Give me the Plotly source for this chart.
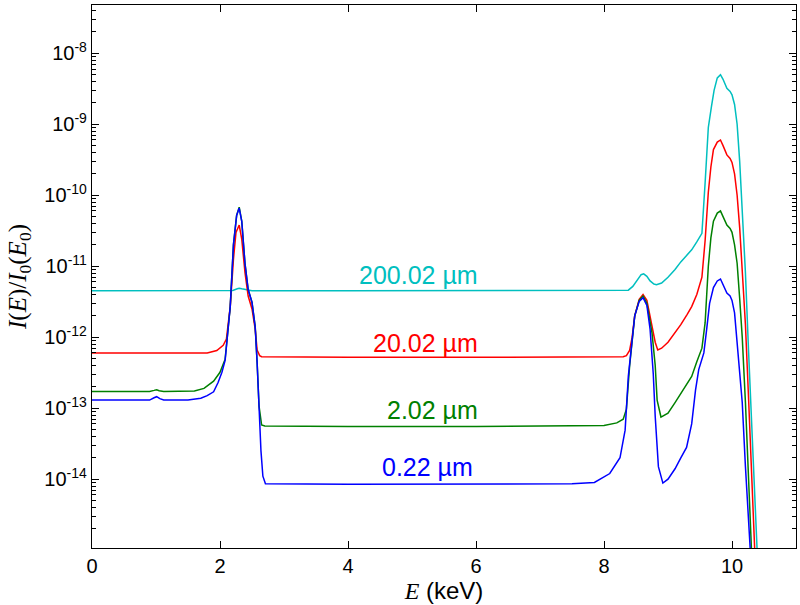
import plotly.graph_objects as go

# ---- data ----
e_cyan = [0, 2.1, 2.2, 2.27, 2.3, 2.34, 2.4, 2.45, 2.5, 4, 6, 8.0, 8.38, 8.45, 8.52, 8.58, 8.62,
          8.67, 8.72, 8.78, 8.82, 8.9, 9.0, 9.11, 9.2, 9.3, 9.37, 9.45, 9.5, 9.53, 9.58, 9.63,
          9.68, 9.72, 9.77, 9.82, 9.86, 9.92, 9.97, 10.0, 10.04, 10.08, 10.12, 10.16, 10.21,
          10.26, 10.31, 10.36, 10.40, 10.44]
i_cyan = [4.5e-12, 4.5e-12, 4.55e-12, 4.8e-12, 4.9e-12, 4.8e-12, 4.7e-12, 4.6e-12, 4.5e-12,
          4.5e-12, 4.5e-12, 4.5e-12, 4.6e-12, 5.2e-12, 6.5e-12, 7.6e-12, 7.8e-12, 7.2e-12,
          6.2e-12, 5.6e-12, 5.5e-12, 5.8e-12, 7e-12, 9e-12, 1.15e-11, 1.45e-11, 1.7e-11,
          2.2e-11, 2.6e-11, 2.9e-11, 1.5e-10, 9e-10, 1.8e-9, 3e-9, 4.5e-9, 5e-9, 4.3e-9,
          3.2e-9, 2.9e-9, 2.6e-9, 1.9e-9, 1e-9, 3e-10, 6e-11, 8e-12, 6e-13, 4e-14, 3e-15,
          5e-16, 1e-16]

e_red = [0, 1.8, 1.95, 2.05, 2.10, 2.13, 2.16, 2.21, 2.25, 2.3, 2.34, 2.39, 2.44, 2.5, 2.55,
         2.58, 2.62, 2.65, 4, 6, 8.3, 8.35, 8.40, 8.44, 8.48, 8.55, 8.61, 8.67, 8.72, 8.77,
         8.80, 8.84, 8.9, 9.0, 9.11, 9.2, 9.3, 9.37, 9.45, 9.5, 9.53, 9.58, 9.63, 9.67, 9.71,
         9.77, 9.82, 9.86, 9.92, 9.97, 10.0, 10.04, 10.08, 10.12, 10.16, 10.21, 10.26, 10.31,
         10.36, 10.40]
i_red = [6e-13, 6e-13, 6.5e-13, 7.7e-13, 9.4e-13, 1.5e-12, 2.7e-12, 1.25e-11, 3e-11, 3.8e-11,
         2.4e-11, 8.2e-12, 3.8e-12, 2.5e-12, 1.3e-12, 6.6e-13, 5.5e-13, 5.3e-13, 5.2e-13,
         5.2e-13, 5.3e-13, 5.5e-13, 6.5e-13, 1e-12, 2e-12, 3.4e-12, 4e-12, 3.3e-12, 2e-12,
         1.2e-12, 8.5e-13, 6.6e-13, 7e-13, 8.5e-13, 1.15e-12, 1.5e-12, 2.1e-12, 2.7e-12,
         4e-12, 5.5e-12, 7e-12, 2.3e-11, 1.1e-10, 2.5e-10, 4.4e-10, 5.6e-10, 6e-10, 5e-10,
         3.7e-10, 3.3e-10, 2.9e-10, 2e-10, 1e-10, 3.5e-11, 1e-11, 1.5e-12, 1.3e-13, 8e-15,
         6e-16, 1e-16]

e_green = [0, 0.9, 0.97, 1.01, 1.05, 1.12, 1.6, 1.75, 1.9, 2.0, 2.08, 2.13, 2.16, 2.21, 2.26,
           2.3, 2.34, 2.39, 2.44, 2.5, 2.55, 2.58, 2.61, 2.65, 2.7, 4, 6, 8.0, 8.2, 8.3, 8.35,
           8.40, 8.44, 8.48, 8.55, 8.61, 8.67, 8.75, 8.80, 8.83, 8.89, 9.0, 9.11, 9.2, 9.3,
           9.37, 9.45, 9.53, 9.58, 9.63, 9.67, 9.71, 9.77, 9.82, 9.86, 9.92, 9.97, 10.0,
           10.04, 10.08, 10.12, 10.16, 10.21, 10.26, 10.31, 10.35]
i_green = [1.72e-13, 1.72e-13, 1.78e-13, 1.82e-13, 1.76e-13, 1.72e-13, 1.75e-13, 1.9e-13,
           2.4e-13, 3.2e-13, 4.9e-13, 1.3e-12, 2.7e-12, 2e-11, 5.2e-11, 6.8e-11, 4.3e-11,
           1.1e-11, 4.7e-12, 3.1e-12, 1.4e-12, 4.4e-13, 1.07e-13, 5.8e-14, 5.6e-14, 5.5e-14,
           5.5e-14, 5.7e-14, 6.2e-14, 7e-14, 9.7e-14, 3.9e-13, 1e-12, 2e-12, 3.3e-12, 3.8e-12,
           3e-12, 1.15e-12, 4e-13, 1.3e-13, 7.5e-14, 8.5e-14, 1.2e-13, 1.6e-13, 2.2e-13,
           2.8e-13, 4.5e-13, 7e-13, 1.6e-12, 1e-11, 2.5e-11, 4.3e-11, 5.6e-11, 6e-11, 5e-11,
           3.8e-11, 3.4e-11, 3e-11, 2e-11, 1.1e-11, 3.5e-12, 1e-12, 1.2e-13, 8e-15, 8e-16,
           1e-16]

e_blue = [0, 0.9, 0.97, 1.01, 1.06, 1.12, 1.5, 1.7, 1.8, 1.9, 1.97, 2.03, 2.08, 2.13, 2.16,
          2.21, 2.26, 2.3, 2.34, 2.39, 2.44, 2.5, 2.55, 2.58, 2.61, 2.64, 2.67, 2.71, 4, 6,
          7.5, 7.85, 8.09, 8.25, 8.33, 8.38, 8.44, 8.48, 8.55, 8.61, 8.67, 8.72, 8.77, 8.80,
          8.85, 8.92, 9.0, 9.11, 9.2, 9.29, 9.37, 9.43, 9.48, 9.52, 9.56, 9.6, 9.65, 9.71,
          9.77, 9.82, 9.86, 9.92, 9.97, 10.0, 10.04, 10.08, 10.12, 10.16, 10.21, 10.26,
          10.30, 10.33]
i_blue = [1.3e-13, 1.3e-13, 1.4e-13, 1.45e-13, 1.36e-13, 1.3e-13, 1.3e-13, 1.38e-13, 1.5e-13,
          1.7e-13, 2.3e-13, 3.2e-13, 4.7e-13, 1.3e-12, 2.7e-12, 2e-11, 5.2e-11, 6.6e-11,
          4.3e-11, 1.1e-11, 4.7e-12, 3.1e-12, 1.4e-12, 4.4e-13, 9e-14, 2.5e-14, 1.1e-14,
          8.6e-15, 8.5e-15, 8.5e-15, 8.6e-15, 9e-15, 1.2e-14, 2e-14, 4.9e-14, 2.8e-13, 1e-12,
          2e-12, 3.2e-12, 3.6e-12, 2.8e-12, 1.3e-12, 3e-13, 7.7e-14, 1.5e-14, 8.8e-15, 1e-14,
          1.4e-14, 2e-14, 2.8e-14, 6e-14, 1.8e-13, 3.5e-13, 4.6e-13, 6e-13, 1.2e-12, 3e-12,
          5e-12, 6.2e-12, 6.6e-12, 5.6e-12, 4.2e-12, 3.8e-12, 3.3e-12, 2.2e-12, 9e-13, 3e-13,
          1.2e-13, 1.5e-14, 3e-15, 6e-16, 1e-16]

labels = ["200.02 µm", "20.02 µm", "2.02 µm", "0.22 µm"]
label_right_x = [6.07, 6.07, 6.07, 5.98]
label_logy = [-11.13, -12.08, -13.03, -13.83]

x_ticks = [0, 2, 4, 6, 8, 10]
y_exps = [-14, -13, -12, -11, -10, -9, -8]

colors = ["#00BFBF", "#FF0000", "#008000", "#0000FF"]
series = [(e_cyan, i_cyan), (e_red, i_red), (e_green, i_green), (e_blue, i_blue)]

fig = go.Figure()
for (ex, iy), c, name in zip(series, colors, labels):
    fig.add_trace(go.Scatter(x=ex, y=iy, mode="lines", line=dict(color=c, width=1.5),
                             name=name, showlegend=False, hoverinfo="skip"))

for t, xx, yy, c in zip(labels, label_right_x, label_logy, colors):
    fig.add_annotation(x=xx, y=yy, xref="x", yref="y", text=t, showarrow=False,
                       xanchor="right",
                       font=dict(family="Liberation Sans, Arial", size=25, color=c))

minor_vals = [m * 10.0 ** k for k in range(-16, -6) for m in range(2, 10)]

fig.update_layout(
    template="none",
    width=800, height=605,
    margin=dict(l=92, r=4, t=5, b=57),
    paper_bgcolor="white", plot_bgcolor="white",
    font=dict(family="Liberation Sans, Arial", size=20, color="black"),
    xaxis=dict(range=[0, 11], tickmode="array", tickvals=x_ticks,
               ticktext=[str(v) for v in x_ticks], automargin=False,
               ticks="inside", ticklen=7, tickwidth=1, tickcolor="black",
               showline=True, linecolor="black", linewidth=1.3, mirror="ticks",
               showgrid=False, zeroline=False,
               title=dict(text='<i><span style="font-family:Liberation Serif">E</span></i> (keV)',
                          font=dict(size=24), standoff=0)),
    yaxis=dict(type="log", range=[-14.97, -7.32], tickmode="array",
               tickvals=[10.0 ** k for k in y_exps],
               ticktext=["10<sup>%d</sup>" % k for k in y_exps], automargin=False,
               ticks="inside", ticklen=7, tickwidth=1, tickcolor="black",
               minor=dict(tickvals=minor_vals, ticks="inside", ticklen=4, tickcolor="black",
                          showgrid=False),
               showline=True, linecolor="black", linewidth=1.3, mirror="ticks",
               showgrid=False, zeroline=False,
               title=dict(text="<i>I</i>(<i>E</i>)/<i>I</i><sub>0</sub>(<i>E</i><sub>0</sub>)",
                          font=dict(family="Liberation Serif, Times New Roman", size=25),
                          standoff=10)),
)

fig.write_html("out.html", config={"displayModeBar": False},
               post_script="document.body.style.margin='0';document.body.style.overflow='hidden';")
